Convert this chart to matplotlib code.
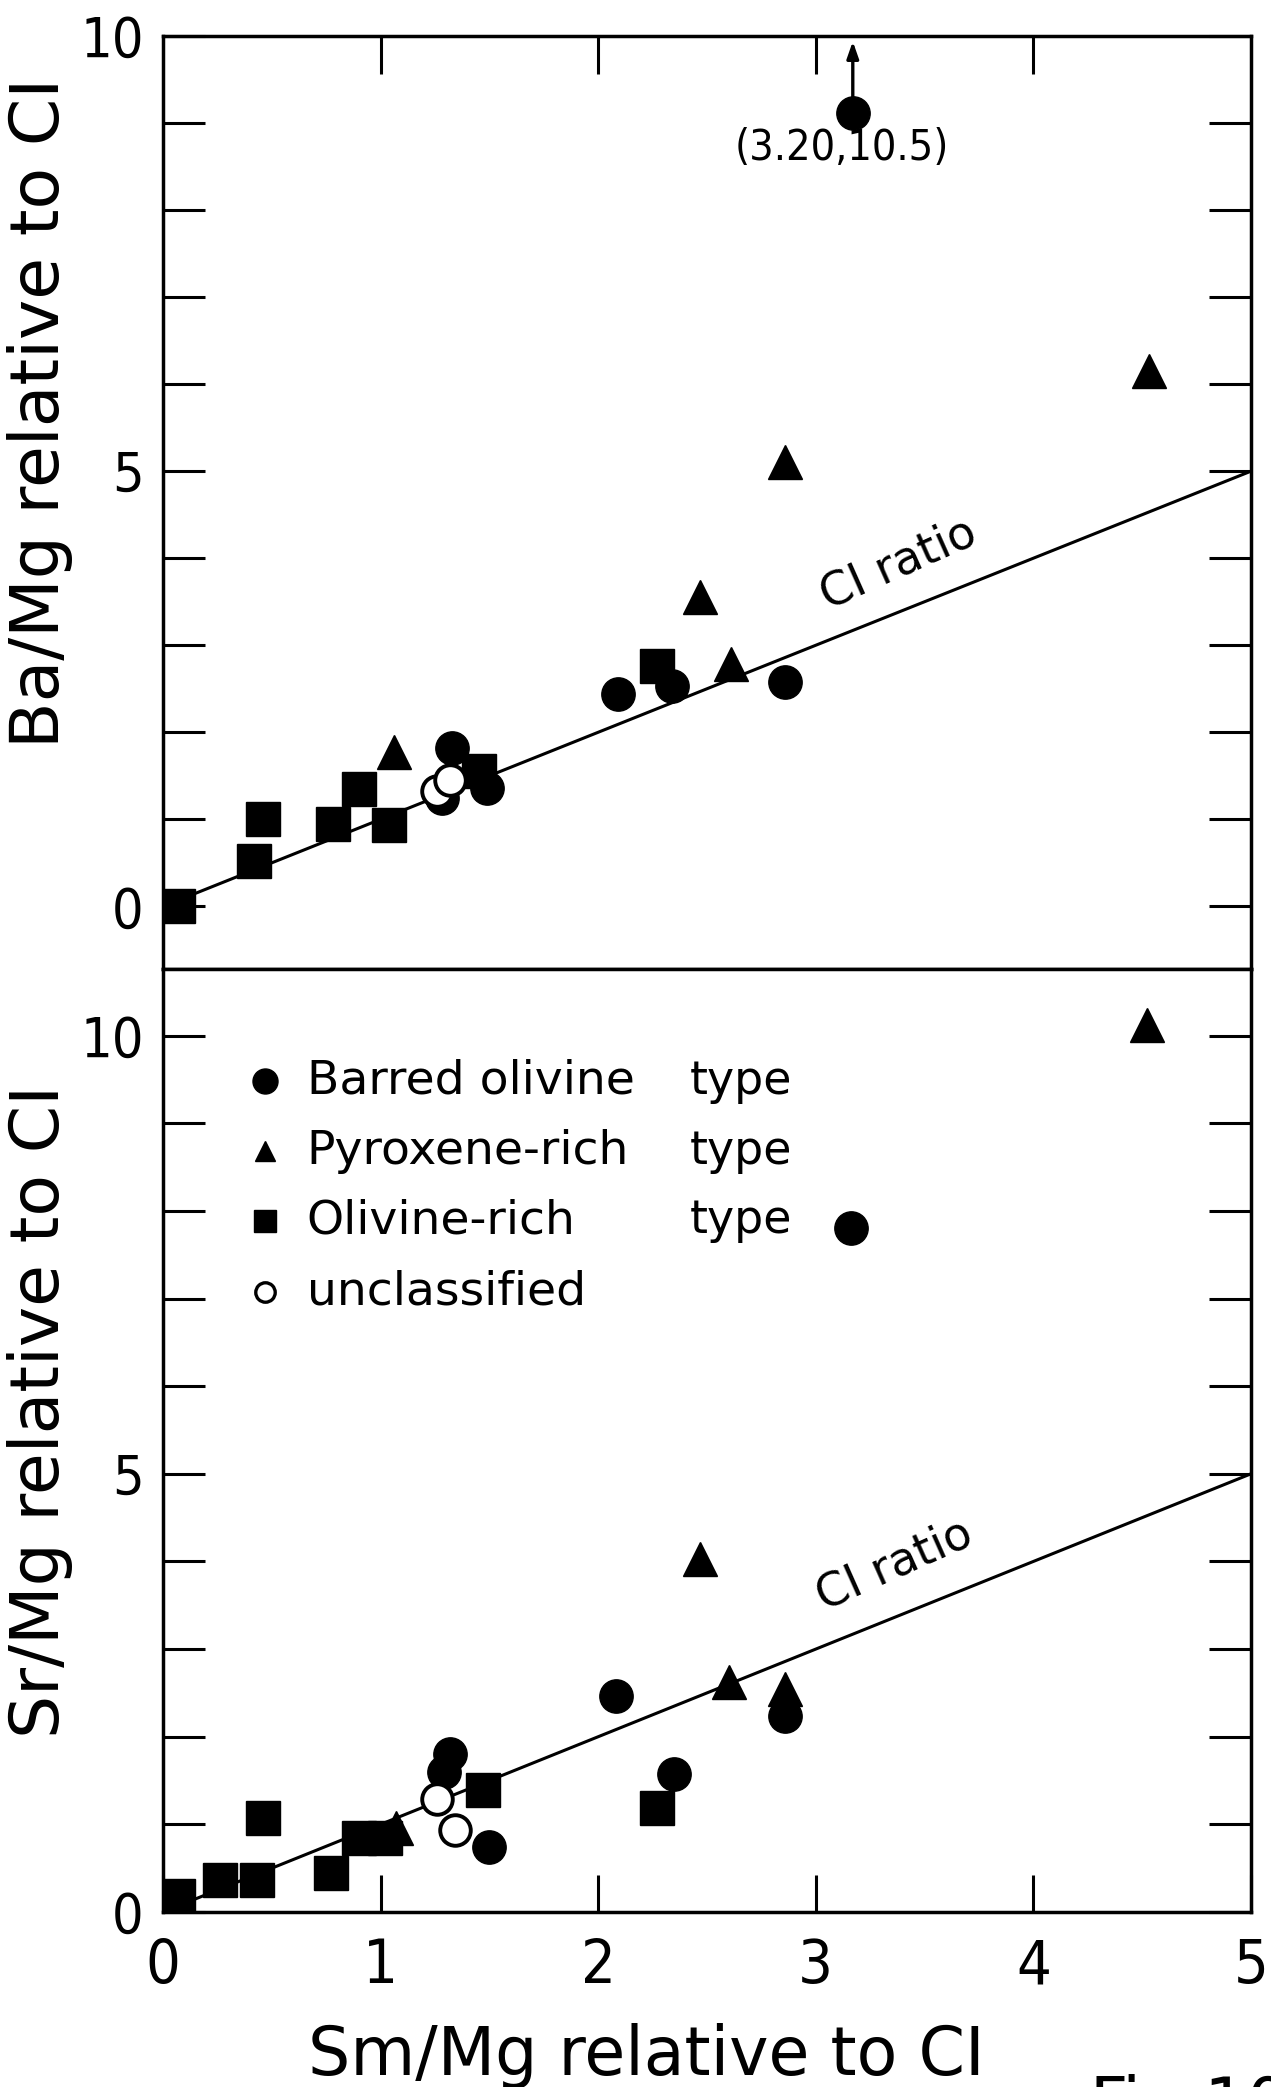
import matplotlib
matplotlib.use("Agg")
import matplotlib.pyplot as plt
from matplotlib.ticker import FixedLocator, FuncFormatter

# ---------------- data ----------------
# Upper panel: Ba/Mg vs Sm/Mg (relative to CI)
ba_barred_x = [3.17, 2.09, 2.34, 2.86, 1.33, 1.28, 1.49]
ba_barred_y = [9.12, 2.44, 2.53, 2.58, 1.82, 1.25, 1.36]
ba_pyrox_x = [4.53, 2.86, 2.47, 2.61, 1.06]
ba_pyrox_y = [6.15, 5.10, 3.55, 2.78, 1.77]
ba_olivine_x = [0.07, 0.42, 0.46, 0.78, 0.90, 1.04, 2.27, 1.45]
ba_olivine_y = [0.00, 0.52, 1.00, 0.95, 1.35, 0.94, 2.76, 1.56]
ba_uncl_x = [1.26, 1.32]
ba_uncl_y = [1.32, 1.45]

# Lower panel: Sr/Mg vs Sm/Mg (relative to CI)
sr_barred_x = [3.16, 2.08, 2.86, 2.35, 1.32, 1.29, 1.50]
sr_barred_y = [7.81, 2.46, 2.24, 1.57, 1.80, 1.60, 0.74]
sr_pyrox_x = [4.52, 2.47, 2.60, 2.86, 1.07]
sr_pyrox_y = [10.12, 4.03, 2.62, 2.55, 0.96]
sr_olivine_x = [0.07, 0.26, 0.43, 0.46, 0.77, 0.90, 1.02, 1.47, 2.27]
sr_olivine_y = [0.18, 0.37, 0.37, 1.07, 0.45, 0.84, 0.84, 1.39, 1.19]
sr_uncl_x = [1.26, 1.34]
sr_uncl_y = [1.29, 0.93]

ci_x = [0, 5]
ci_y = [0, 5]

legend_labels = ["Barred olivine", "Pyroxene-rich", "Olivine-rich", "unclassified"]
x_ticklabels = ["0", "1", "2", "3", "4", "5"]

# ---------------- figure ----------------
W, H = 1271, 2087
fig = plt.figure(figsize=(W / 100, H / 100), dpi=100)

L, R = 163, 1251
T1, D, B2 = 36, 969, 1912
ax1 = fig.add_axes([L / W, 1 - D / H, (R - L) / W, (D - T1) / H])
ax2 = fig.add_axes([L / W, 1 - B2 / H, (R - L) / W, (B2 - D) / H])

num_font = ["DejaVu Sans"]
txt_font = ["DejaVu Sans"]
NUM_STRETCH = "condensed"

ms = 24
def plot_panel(ax, bx, by, px, py, ox, oy, ux, uy):
    ax.plot(ci_x, ci_y, color="black", lw=2.2, zorder=2)
    ax.plot(ox, oy, ls="none", marker="s", ms=ms, color="black", zorder=3)
    ax.plot(px, py, ls="none", marker="^", ms=ms, color="black", zorder=3)
    ax.plot(bx, by, ls="none", marker="o", ms=ms, color="black", zorder=4)
    ax.plot(ux, uy, ls="none", marker="o", ms=ms - 2, mfc="white", mec="black",
            mew=2.8, zorder=5)
    for s in ax.spines.values():
        s.set_linewidth(2.5)
    ax.set_xlim(0, 5)
    ax.yaxis.set_major_locator(FixedLocator(list(range(0, 11))))
    ax.yaxis.set_major_formatter(FuncFormatter(
        lambda v, p: str(int(round(v))) if int(round(v)) in (0, 5, 10) else ""))
    ax.tick_params(axis="y", which="both", direction="in", left=True, right=True,
                   length=30, width=2.2, pad=14, labelsize=40)

plot_panel(ax1, ba_barred_x, ba_barred_y, ba_pyrox_x, ba_pyrox_y,
           ba_olivine_x, ba_olivine_y, ba_uncl_x, ba_uncl_y)
plot_panel(ax2, sr_barred_x, sr_barred_y, sr_pyrox_x, sr_pyrox_y,
           sr_olivine_x, sr_olivine_y, sr_uncl_x, sr_uncl_y)

ax1.set_ylim(-0.72, 10)
ax2.set_ylim(0, 10.76)

ax1.set_xticks([1, 2, 3, 4])
ax1.tick_params(axis="x", direction="in", bottom=False, top=True,
                labelbottom=False, length=27, width=2.2)
ax2.set_xticks([0, 1, 2, 3, 4, 5])
ax2.set_xticklabels(x_ticklabels)
ax2.tick_params(axis="x", direction="in", bottom=True, top=False,
                length=27, width=2.2, pad=18, labelsize=44)

for ax in (ax1, ax2):
    for lab in ax.get_yticklabels() + ax.get_xticklabels():
        lab.set_family(num_font)
        lab.set_stretch(NUM_STRETCH)

# CI ratio labels
ax1.text(3.38, 3.93, "CI ratio", rotation=24, rotation_mode="anchor",
         ha="center", va="center", fontsize=33, family=txt_font)
ax2.text(3.36, 3.95, "CI ratio", rotation=24, rotation_mode="anchor",
         ha="center", va="center", fontsize=33, family=txt_font)

# off-scale point annotation
ax1.annotate("", xy=(3.17, 9.97), xytext=(3.17, 9.25),
             arrowprops=dict(arrowstyle="-|>,head_length=1.0,head_width=0.35",
                             color="black", lw=2.4), zorder=6)
ax1.text(3.12, 8.71, "(3.20,10.5)", ha="center", va="center", fontsize=31,
         family=num_font, stretch=NUM_STRETCH)

# legend (drawn as text in the lower panel)
leg_y = [9.48, 8.68, 7.89, 7.08]
leg_mk = ["o", "^", "s", "o"]
leg_ms = [18, 15, 16, 14]
for i, (lab, yy, mk) in enumerate(zip(legend_labels, leg_y, leg_mk)):
    if i == 3:
        ax2.plot([0.47], [yy], marker=mk, ms=leg_ms[i], mfc="white", mec="black",
                 mew=2.4, ls="none")
    else:
        ax2.plot([0.47], [yy], marker=mk, ms=leg_ms[i], color="black", ls="none")
    ax2.text(0.66, yy, lab, ha="left", va="center", fontsize=34, family=txt_font)
    if i < 3:
        ax2.text(2.42, yy, "type", ha="left", va="center", fontsize=33,
                 family=txt_font)

# axis labels
fig.text(40 / W, 1 - 413 / H, "Ba/Mg relative to CI", rotation=90,
         ha="center", va="center", fontsize=49, family=txt_font)
fig.text(40 / W, 1 - 1411 / H, "Sr/Mg relative to CI", rotation=90,
         ha="center", va="center", fontsize=49, family=txt_font)
fig.text(646 / W, 1 - 2056 / H, "Sm/Mg relative to CI",
         ha="center", va="center", fontsize=48, family=txt_font)

# figure number, cut off at the page edge as in the reference
fig.text(1090 / W, 1 - 2074 / H, "Fig.10", ha="left", va="top",
         fontsize=48, family=txt_font)

fig.savefig("out.png", dpi=100)
